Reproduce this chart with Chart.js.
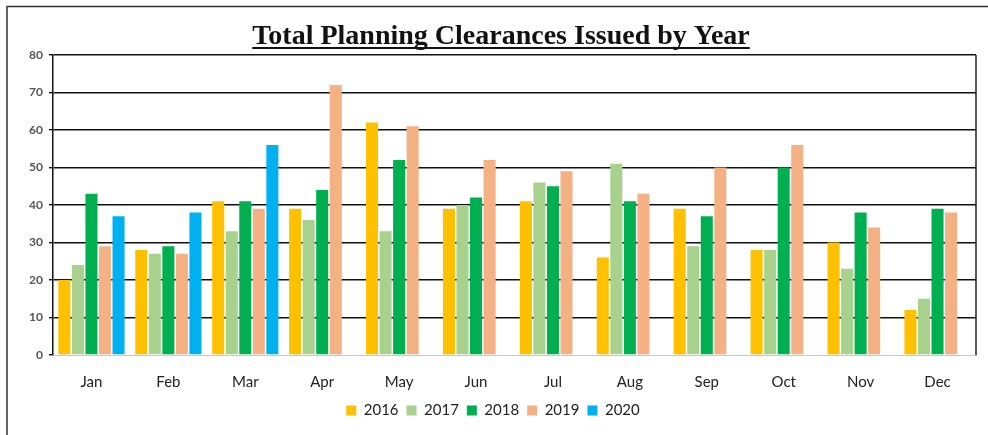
<!DOCTYPE html>
<html>
<head>
<meta charset="utf-8">
<script src="https://cdn.jsdelivr.net/npm/chart.js@4"></script>
<style>
  html, body { margin: 0; padding: 0; background: #fff; }
  #wrap { width: 988px; height: 435px; position: relative; }
</style>
</head>
<body>
<div id="wrap"><canvas id="clearanceChart" width="988" height="435"></canvas></div>
<script>

// ─────────────────────────────────────
// DATA
// ─────────────────────────────────────

const chartTitle = "Total Planning Clearances Issued by Year";

const months = ["Jan", "Feb", "Mar", "Apr", "May", "Jun", "Jul", "Aug", "Sep", "Oct", "Nov", "Dec"];

const years = ["2016", "2017", "2018", "2019", "2020"];

const y2016 = [20, 28, 41, 39, 62, 39, 41, 26, 39, 28, 30, 12];
const y2017 = [24, 27, 33, 36, 33, 40, 46, 51, 29, 28, 23, 15];
const y2018 = [43, 29, 41, 44, 52, 42, 45, 41, 37, 50, 38, 39];
const y2019 = [29, 27, 39, 72, 61, 52, 49, 43, 50, 56, 34, 38];
const y2020 = [37, 38, 56, null, null, null, null, null, null, null, null, null];

const yTicks = [0, 10, 20, 30, 40, 50, 60, 70, 80];

const colors = ['#FFC000', '#A9D18E', '#00B050', '#F4B183', '#00B0F0'];

const series = [y2016, y2017, y2018, y2019, y2020];


// ─────────────────────────────────────
// PLUGINS: outer frame, right border, underlined title
// ─────────────────────────────────────

const framePlugin = {
    id: 'frame',
    beforeDraw(chart) {
        const ctx = chart.ctx;
        ctx.save();
        ctx.strokeStyle = '#333';
        ctx.lineWidth = 1.5;
        ctx.beginPath();
        ctx.moveTo(7, chart.height);
        ctx.lineTo(7, 6.5);
        ctx.lineTo(chart.width, 6.5);
        ctx.stroke();
        ctx.restore();
    },
    afterDatasetsDraw(chart) {
        const a = chart.chartArea;
        const ctx = chart.ctx;
        ctx.save();
        ctx.strokeStyle = '#222';
        ctx.lineWidth = 1.5;
        ctx.beginPath();
        ctx.moveTo(a.right, a.top);
        ctx.lineTo(a.right, a.bottom);
        ctx.stroke();
        ctx.restore();
    },
    afterDraw(chart) {
        const ctx = chart.ctx;
        const cx = 501;
        ctx.save();
        ctx.font = 'bold 28px "Liberation Serif"';
        ctx.fillStyle = '#111';
        ctx.textAlign = 'center';
        ctx.textBaseline = 'alphabetic';
        ctx.fillText(chartTitle, cx, 44);
        const w = ctx.measureText(chartTitle).width;
        ctx.strokeStyle = '#111';
        ctx.lineWidth = 2;
        ctx.beginPath();
        ctx.moveTo(cx - w / 2, 48);
        ctx.lineTo(cx + w / 2, 48);
        ctx.stroke();
        ctx.restore();
    }
};


// ─────────────────────────────────────
// BAR CHART
// ─────────────────────────────────────

new Chart(document.getElementById("clearanceChart"), {

    type: "bar",

    data: {

        labels: months,

        datasets: years.map((yr, i) => ({
            label: yr,
            data: series[i],
            backgroundColor: colors[i],
            borderWidth: 0,
            barPercentage: 0.89,
            categoryPercentage: 0.88
        }))
    },

    options: {

        responsive: false,
        animation: false,

        layout: {
            padding: { left: 10, right: 12, top: 55, bottom: 7 }
        },

        plugins: {

            title: { display: false },

            legend: {
                position: "bottom",
                labels: {
                    boxWidth: 10,
                    boxHeight: 10,
                    padding: 8,
                    color: '#222',
                    font: { family: 'Lato', size: 15 }
                }
            },

            tooltip: { enabled: false }
        },

        scales: {

            x: {
                grid: { display: false },
                border: { color: '#c8c8c8', width: 1 },
                ticks: {
                    color: '#222',
                    font: { family: 'Lato', size: 15 },
                    padding: 10
                },
                afterFit: function(scale) {
                    scale.height = 40;
                }
            },

            y: {
                min: 0,
                max: 80,
                afterBuildTicks: function(scale) {
                    scale.ticks = yTicks.map(v => ({ value: v }));
                },
                grid: {
                    color: ctx => ctx.tick && ctx.tick.value === 0 ? 'rgba(0,0,0,0)' : '#111',
                    lineWidth: 1.4,
                    tickLength: 4,
                    tickColor: '#111'
                },
                border: { color: '#111', width: 1.5 },
                ticks: {
                    color: '#555',
                    font: { family: 'Lato', size: 12, weight: 'bold' },
                    padding: 6
                },
                afterFit: function(scale) {
                    scale.width = 43;
                }
            }
        }
    },

    plugins: [framePlugin]
});

</script>
</body>
</html>
